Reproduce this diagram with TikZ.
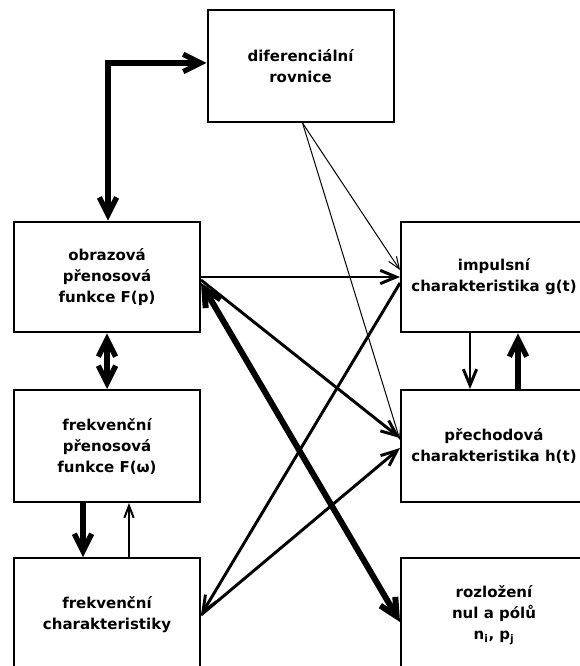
\documentclass[tikz,border=0pt]{standalone}
\usepackage{fontspec}
\setmainfont{DejaVu Sans}
\usetikzlibrary{arrows.meta}
\tikzset{
  blok/.style={draw, line width=1.5pt, minimum width=139.5pt, minimum height=83pt,
    inner sep=0pt, align=center, font=\bfseries\fontsize{11.25}{15.75}\selectfont},
  tenka/.style={line width=0.75pt, -{Straight Barb[length=9pt,width=7pt]}},
  stredni/.style={line width=2.2pt, -{Straight Barb[length=12pt,width=10pt]}},
  silna/.style={line width=4pt, -{Straight Barb[length=13pt,width=13pt]}},
  silna2/.style={line width=4pt, {Straight Barb[length=13pt,width=13pt]}-{Straight Barb[length=13pt,width=13pt]}},
  nejsilnejsi2/.style={line width=4.5pt, {Straight Barb[length=13pt,width=13pt]}-{Straight Barb[length=13pt,width=13pt]}}
}
\begin{document}
\begin{tikzpicture}[x=0.75pt,y=-0.75pt]

    \useasboundingbox (0,0) rectangle (579,666);

    \node[blok, minimum height=84pt] (dif) at (300.5,66) {diferenciální\\rovnice};
    \node[blok] (obr) at (107,277) {obrazová\\přenosová\\funkce F(p)};
    \node[blok] (imp) at (494,277) {impulsní\\charakteristika g(t)};
    \node[blok, minimum height=84pt] (fpr) at (107,446) {frekvenční\\přenosová\\funkce F(ω)};
    \node[blok, minimum height=84pt] (pre) at (494,446) {přechodová\\charakteristika h(t)};
    \node[blok, minimum height=85.5pt] (fch) at (107,615) {frekvenční\\charakteristiky};
    \node[blok, minimum height=85.5pt] (roz) at (494,615) {rozložení\\nul a pólů\\n\textsubscript{i}, p\textsubscript{j}};

    \draw[silna2] ([xshift=0.75pt]obr.north) |- ([yshift=2.25pt]dif.west);
    \draw[tenka] ([xshift=1.5pt]dif.south) -- ([yshift=5.25pt]imp.west);
    \draw[tenka] ([xshift=1.5pt]dif.south) -- ([yshift=4.5pt]pre.west);
    \draw[stredni] (obr.east) -- (imp.west);
    \draw[stredni] ([yshift=-2.25pt]obr.east) -- ([yshift=6pt]pre.west);
    \draw[nejsilnejsi2] ([yshift=-4.5pt]obr.east) -- ([yshift=-5.25pt]roz.west);
    \draw[stredni] ([yshift=-4.5pt]imp.west) -- (fch.east);
    \draw[stredni] (fch.east) -- ([yshift=-1.5pt]pre.west);
    \draw[silna2] (obr.south) -- (fpr.north);
    \draw[silna] ([xshift=-18pt]fpr.south) -- ([xshift=-18pt]fch.north);
    \draw[tenka, line width=1.5pt] ([xshift=16.5pt]fch.north) -- ([xshift=16.5pt]fpr.south);
    \draw[stredni] ([xshift=-18pt]imp.south) -- ([xshift=-18pt]pre.north);
    \draw[silna] ([xshift=18pt]pre.north) -- ([xshift=18pt]imp.south);
        \end{tikzpicture}
\end{document}
